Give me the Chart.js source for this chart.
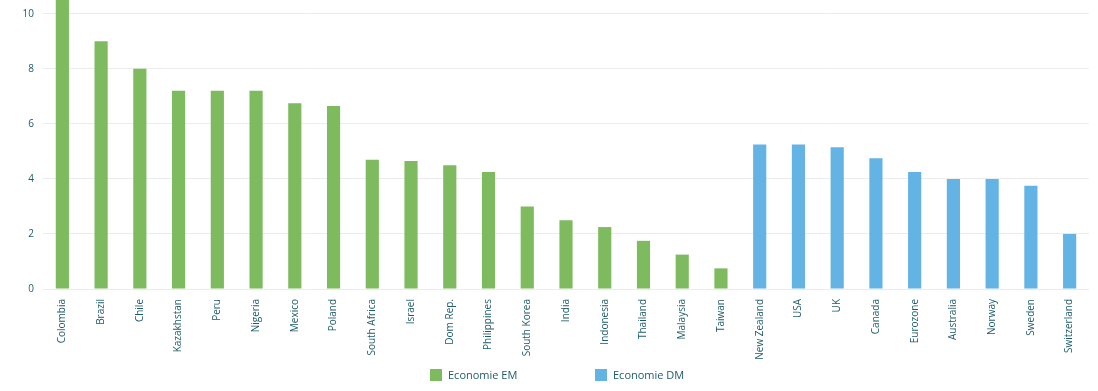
<!DOCTYPE html>
<html>
<head>
<meta charset="utf-8">
<script src="https://cdn.jsdelivr.net/npm/chart.js@4/dist/chart.umd.min.js"></script>
<style>
	html, body { margin: 0; padding: 0; background: #fff; }
	#wrap { position: relative; width: 1098px; height: 391px; overflow: hidden; }
	#chart { position: absolute; left: 0; top: -15px; }
	#legend { position: absolute; top: 367px; left: 0; width: 1098px; font: 11px "Open Sans", sans-serif; color: #1d5b68; }
	.item { position: absolute; top: 0; display: flex; align-items: center; }
	.box { width: 12px; height: 12px; margin-right: 6px; }
</style>
</head>
<body>
<div id="wrap">
	<canvas id="chart" width="1098" height="406"></canvas>
	<div id="legend"></div>
</div>
<script>
// Policy rates by country
const countries = ["Colombia", "Brazil", "Chile", "Kazakhstan", "Peru", "Nigeria", "Mexico", "Poland",
	"South Africa", "Israel", "Dom Rep.", "Philippines", "South Korea", "India", "Indonesia", "Thailand",
	"Malaysia", "Taiwan", "New Zealand", "USA", "UK", "Canada", "Eurozone", "Australia", "Norway", "Sweden", "Switzerland"];
const emValues = [10.75, 9.0, 8.0, 7.2, 7.2, 7.2, 6.75, 6.65, 4.7, 4.65, 4.5, 4.25, 3.0, 2.5, 2.25, 1.75, 1.25, 0.75,
	null, null, null, null, null, null, null, null, null];
const dmValues = [null, null, null, null, null, null, null, null, null, null, null, null, null, null, null, null, null, null,
	5.25, 5.25, 5.15, 4.75, 4.25, 4.0, 4.0, 3.75, 2.0];
const yTicks = [0, 2, 4, 6, 8, 10];

const textColor = "#1d5b68";
const font = { family: "'Open Sans', sans-serif", size: 10 };

const chart = new Chart(document.getElementById("chart").getContext("2d"), {
	type: "bar",
	data: {
		labels: countries,
		datasets: [
			{ label: "Economie EM", data: emValues, backgroundColor: "#7dbb5e" },
			{ label: "Economie DM", data: dmValues, backgroundColor: "#63b3e4" }
		]
	},
	options: {
		responsive: false,
		animation: false,
		grouped: false,
		categoryPercentage: 1,
		barPercentage: 0.34,
		layout: { padding: { left: 0, right: 9, top: 0, bottom: 32 } },
		plugins: {
			legend: { display: false },
			tooltip: { enabled: false }
		},
		scales: {
			x: {
				grid: { display: false },
				border: { display: false },
				ticks: { color: textColor, font, minRotation: 90, maxRotation: 90, autoSkip: false, padding: 2 },
				afterFit: s => { s.height = 70; }
			},
			y: {
				min: 0,
				max: 10.5,
				grid: { color: "#ececec", drawTicks: false },
				border: { display: false },
				ticks: { color: textColor, font, padding: 9, stepSize: 2 },
				afterBuildTicks: s => { s.ticks = yTicks.map(v => ({ value: v })); },
				afterFit: s => { s.width = 43; }
			}
		}
	}
});

// legend below the chart
const legendPos = [430, 595];
const legendEl = document.getElementById("legend");
chart.data.datasets.forEach((ds, i) => {
	const item = document.createElement("div");
	item.className = "item";
	item.style.left = legendPos[i] + "px";
	item.innerHTML = '<span class="box" style="background:' + ds.backgroundColor + '"></span><span>' + ds.label + '</span>';
	legendEl.appendChild(item);
});
</script>
</body>
</html>
